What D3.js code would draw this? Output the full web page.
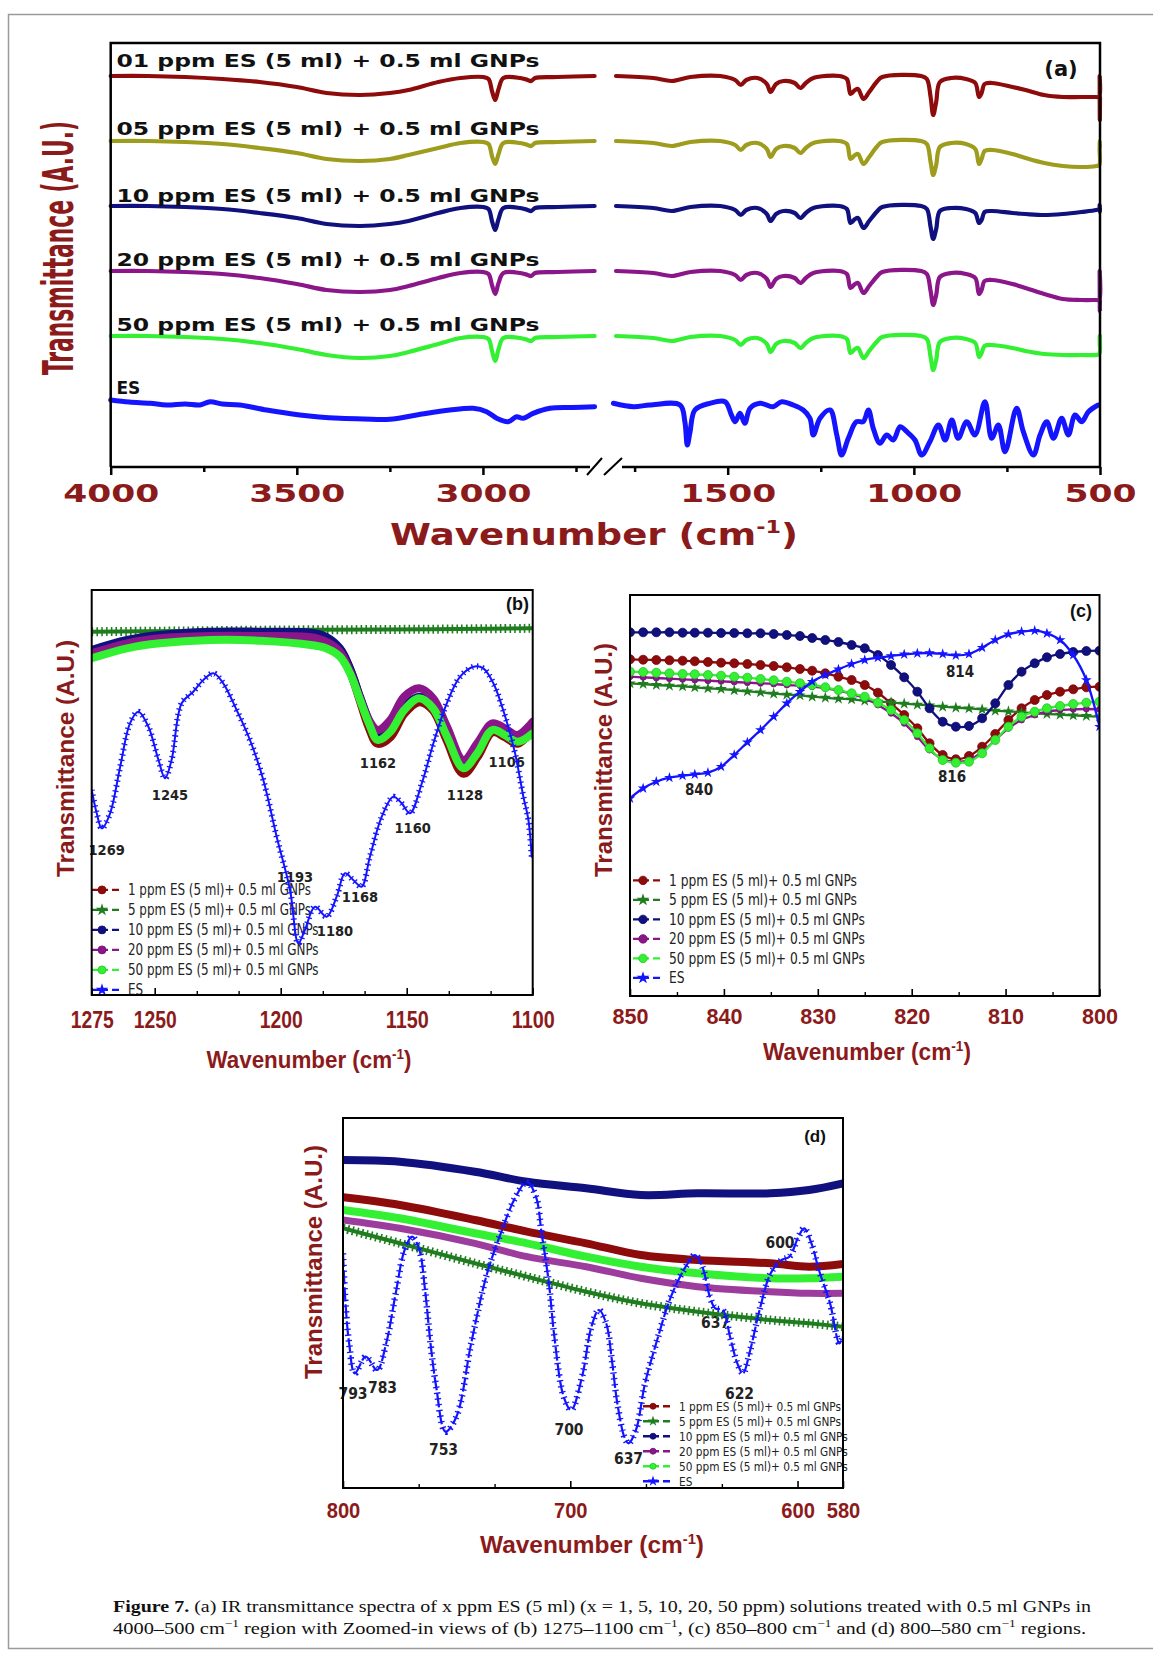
<!DOCTYPE html>
<html>
<head>
<meta charset="utf-8">
<script src="https://cdn.jsdelivr.net/npm/d3@7"></script>
<style>
  body { margin: 0; background: #fff; }
  svg { display: block; }
</style>
</head>
<body>
<svg id="fig" width="1153" height="1653"></svg>
<script>
// ---------------- panel (a): full spectra, offset traces ----------------
const gnpWnHigh = [4000, 3900, 3800, 3700, 3600, 3500, 3420, 3330, 3250, 3200, 3120, 3060, 3000, 2985, 2975, 2967, 2958, 2945, 2900, 2880, 2870, 2860, 2800, 2700];
const ppm01High = [391, 391, 390, 388, 385, 380, 374, 372, 374, 377, 385, 389, 390, 388, 375, 367, 378, 389, 389, 387, 386, 389, 390, 391];
const ppm05High = [326, 326, 325, 323, 319, 314, 308, 306, 308, 312, 319, 324, 325, 323, 310, 303, 313, 324, 324, 322, 321, 324, 325, 326];
const ppm10High = [261, 261, 260, 258, 254, 249, 243, 241, 243, 246, 254, 259, 260, 258, 245, 237, 248, 259, 259, 257, 256, 259, 260, 261];
const ppm20High = [196, 196, 195, 193, 189, 183, 177, 175, 177, 181, 189, 194, 195, 193, 181, 173, 184, 194, 194, 192, 191, 194, 195, 196];
const ppm50High = [131, 131, 130, 128, 124, 118, 112, 109, 111, 115, 123, 129, 130, 128, 115, 106, 118, 129, 129, 127, 126, 129, 130, 131];

const gnpWnLow = [1800, 1700, 1650, 1600, 1520, 1480, 1465, 1450, 1420, 1395, 1385, 1370, 1350, 1320, 1305, 1290, 1270, 1200, 1180, 1170, 1158, 1150, 1135, 1120, 1100, 1085, 980, 965, 955, 948, 940, 930, 900, 860, 835, 825, 818, 810, 790, 735, 700, 650, 600, 550, 510, 502, 501, 500.5, 500];
const ppm01Low = [391, 389, 386, 390, 391, 387, 382, 387, 389, 383, 375, 383, 386, 384, 379, 384, 389, 391, 388, 373, 377, 378, 368, 375, 385, 390, 391, 388, 370, 352, 365, 385, 389, 388, 384, 370, 374, 383, 384, 380, 377, 372, 370, 370, 370, 370, 391, 347, 370];
const ppm05Low = [326, 324, 321, 325, 326, 322, 317, 322, 324, 318, 310, 318, 321, 319, 314, 319, 324, 326, 323, 308, 312, 313, 303, 310, 320, 325, 326, 323, 305, 292, 302, 320, 324, 323, 318, 303, 308, 316, 317, 313, 309, 304, 301, 300, 301, 302, 318, 326, 320];
const ppm10Low = [261, 259, 256, 260, 261, 257, 252, 257, 259, 253, 246, 253, 256, 254, 249, 254, 259, 261, 258, 244, 248, 249, 239, 246, 255, 260, 261, 258, 240, 228, 238, 256, 259, 258, 254, 244, 247, 255, 256, 254, 253, 252, 253, 255, 257, 258, 262, 255, 258];
const ppm20Low = [196, 194, 191, 195, 196, 192, 187, 192, 194, 188, 180, 188, 191, 189, 184, 189, 194, 196, 193, 179, 183, 184, 174, 181, 190, 195, 196, 193, 176, 162, 172, 190, 194, 193, 189, 173, 177, 186, 187, 183, 179, 173, 168, 167, 167, 167, 196, 156, 166];
const ppm50Low = [131, 129, 126, 130, 131, 127, 122, 127, 129, 123, 115, 123, 126, 124, 119, 124, 129, 131, 128, 114, 118, 119, 109, 116, 125, 130, 131, 128, 110, 97, 107, 125, 129, 128, 124, 110, 114, 121, 122, 119, 116, 113, 112, 112, 112, 113, 131, 120, 131];

const esWnHigh = [4000, 3950, 3894, 3850, 3800, 3760, 3733, 3700, 3653, 3581, 3492, 3440, 3384, 3320, 3250, 3178, 3089, 3026, 2990, 2963, 2932, 2910, 2892, 2865, 2820, 2760, 2700];
const esHigh = [67, 65, 63.7, 62, 63, 62, 65.3, 63, 62, 57, 52, 50, 48.7, 48, 47.7, 52, 57, 58.7, 55.3, 48.7, 45.3, 50.3, 48.7, 53.7, 58.7, 59.5, 60.3];
const esWnLow = [1807, 1753, 1709, 1628, 1615, 1608.5, 1601, 1588, 1548, 1507, 1490, 1480, 1467, 1454, 1440, 1413, 1378, 1355, 1324, 1297, 1279, 1270, 1252, 1225, 1207, 1194, 1176, 1154, 1136, 1122, 1109, 1091, 1073, 1055, 1037, 1019, 997, 979, 957, 934, 916, 898, 881, 858, 836, 809, 791, 773, 755, 724, 706, 679, 661, 643, 625, 603, 585, 567, 549, 531, 505];
const esLow = [63.7, 60.3, 62, 62, 45.3, 22, 35.3, 57, 63.7, 65.3, 52, 45.3, 53.7, 43.7, 58.7, 63.7, 60.3, 65.3, 62, 57, 48.7, 32, 48.7, 57, 32, 12, 28.7, 45.3, 45.3, 57, 38.7, 23.7, 32, 27, 40.3, 35.3, 27, 12, 25.3, 42, 27, 47, 28.7, 45.3, 32, 65.3, 28.7, 42, 15.3, 58.7, 35.3, 12, 32, 45.3, 28.7, 48.7, 32, 52, 45.3, 55.3, 62];

const traceNamesA = ["01 ppm ES (5 ml) + 0.5 ml GNPs", "05 ppm ES (5 ml) + 0.5 ml GNPs", "10 ppm ES (5 ml) + 0.5 ml GNPs", "20 ppm ES (5 ml) + 0.5 ml GNPs", "50 ppm ES (5 ml) + 0.5 ml GNPs", "ES"];
const ticksHighMajor = [4000, 3500, 3000];
const ticksHighMinor = [3750, 3250, 2750];
const ticksLowMajor = [1500, 1000, 500];
const ticksLowMinor = [1750, 1250, 750];

// ---------------- panel (b): 1275-1100 ----------------
const gnpWnB = [1275, 1261, 1248, 1228, 1208, 1188, 1182, 1176.5, 1172.5, 1168.5, 1165, 1161.5, 1156.5, 1151, 1145, 1139.5, 1134, 1127.5, 1122, 1116, 1111, 1106, 1100];
const ppm01B = [343.3, 351.7, 356.7, 360, 360, 358.3, 355, 345, 325, 295, 268.3, 251.7, 258.3, 281.7, 293.3, 285, 255, 221.7, 238.3, 263.3, 258.3, 251.7, 266.7];
const ppm10B = [345, 355, 360, 363.3, 363.3, 362.3, 358.3, 346.7, 326.7, 298.3, 275, 260, 266.7, 288.3, 298.3, 290, 261.7, 228.3, 245, 268.3, 263.3, 256.7, 268.3];
const ppm20B = [341.7, 351.7, 356.7, 359, 359, 357.7, 353.3, 343.3, 323.3, 296.7, 275, 265, 275, 298.3, 306.7, 296.7, 268.3, 235, 251.7, 271.7, 266.7, 260, 273.3];
const ppm50B = [336.7, 346.7, 351.7, 355, 354.3, 350, 346.7, 338.3, 321.7, 295, 271.7, 255, 263.3, 285, 296.7, 286.7, 258.3, 226.7, 241.7, 265, 260, 253.3, 261.7];
const ppm05WnB = [1275, 1240, 1200, 1160, 1130, 1100];
const ppm05B = [363.3, 364, 365, 365.5, 366, 366.7];
const esWnB = [1275, 1273, 1271, 1267.7, 1263.7, 1259.8, 1256.5, 1252.5, 1248.5, 1245.9, 1243.3, 1239.3, 1234.7, 1230.7, 1226.7, 1222.8, 1217.5, 1212.2, 1206.9, 1201.6, 1196.3, 1193, 1190.4, 1186.4, 1181.8, 1177.8, 1174.5, 1171.2, 1167.9, 1164.6, 1159.9, 1155.3, 1152, 1148.7, 1144, 1139.4, 1134.1, 1128.8, 1123.5, 1119.6, 1115.6, 1110.9, 1107, 1103.7, 1101.7, 1100.4];
const esB = [205, 181.7, 166.7, 181.7, 228.3, 271.7, 283.3, 268.3, 235, 216.7, 235, 291.7, 303.3, 315, 321.7, 311.7, 285, 255, 215, 158.3, 105, 51.7, 65, 88.3, 78.3, 98.3, 121.7, 115, 108.3, 138.3, 178.3, 198.3, 191.7, 181.7, 211.7, 251.7, 291.7, 318.3, 328.3, 326.7, 311.7, 278.3, 241.7, 198.3, 175, 138.3];
const peakLabelsB = ["1269", "1245", "1193", "1180", "1168", "1160", "1162", "1128", "1106"];
const ticksBMajor = [1275, 1250, 1200, 1150, 1100];
const ticksBMinor = [1233.3, 1216.7, 1183.3, 1166.7, 1133.3, 1116.7];

// ---------------- panel (c): 850-800 ----------------
const wnC = [850, 848.6, 847.2, 845.8, 844.4, 843.1, 841.7, 840.3, 838.9, 837.5, 836.1, 834.7, 833.3, 831.9, 830.6, 829.2, 827.8, 826.4, 825.0, 823.6, 822.2, 820.8, 819.4, 818.1, 816.7, 815.3, 813.9, 812.5, 811.1, 809.7, 808.3, 806.9, 805.6, 804.2, 802.8, 801.4, 800];
const ppm01C = [336.7, 336.3, 336, 335.7, 335.3, 334.7, 334, 333.3, 332.7, 332, 331, 330, 328.7, 327, 325.3, 322.7, 319.3, 316, 311, 303.3, 292.7, 281, 267.7, 252.7, 241, 236.7, 240, 249.3, 262, 276, 287.7, 296, 301, 304.3, 306.7, 308.7, 309.3];
const ppm05C = [312.7, 312, 311, 310.3, 309.7, 308.7, 307.7, 307, 305.7, 304.7, 303.7, 302.3, 301.3, 300.7, 299.3, 298.3, 297.3, 296.7, 295.3, 294.3, 293.7, 292.3, 291.3, 290.7, 289.3, 288.3, 287.7, 286.7, 285.3, 284.7, 283.7, 282.7, 282, 281.3, 280.7, 280, 279.3];
const ppm10C = [363.7, 363.7, 363.7, 363.7, 363.3, 363.3, 363.3, 363, 363, 362.7, 362.7, 362, 361, 360, 358, 356, 354, 351, 347.7, 341, 331, 318.7, 304.3, 287.7, 274.3, 269.3, 270, 277.7, 292.7, 311, 324.3, 332.7, 338.7, 342, 344, 345, 345.3];
const ppm20C = [319.3, 318.7, 318, 317.3, 316.7, 316, 315.3, 314.7, 314, 313.3, 312.7, 312, 311, 310.3, 309.3, 307.7, 305.3, 302, 297.7, 291, 282.7, 272.7, 259.3, 246, 236.7, 234.3, 236, 244.3, 256, 267.7, 276, 281, 284.3, 286, 286.7, 287, 286.7];
const ppm50C = [324.3, 324, 323.3, 322.7, 322, 321.7, 321, 320.3, 319.3, 318.3, 317, 315.7, 314.3, 312.7, 311, 308.7, 306, 302.7, 299.3, 293.3, 286, 276, 262.7, 247.7, 236, 233.3, 234.3, 242.7, 256, 269.3, 279.3, 284.3, 287.7, 290, 292, 293.3, 294.3];
const esC = [197.7, 207.7, 214.3, 218.3, 220.3, 221.7, 223.3, 229.3, 241, 253.7, 266, 279.3, 292.7, 304.3, 314.3, 321, 326.7, 332, 336, 338.3, 340, 341.7, 342.7, 343, 342, 340.7, 342, 348.3, 356, 361.7, 364.3, 365.3, 362.7, 356, 341, 316, 269.3];
const peakLabelsC = ["814", "816", "840"];
const ticksCMajor = [850, 840, 830, 820, 810, 800];
const ticksCMinor = [845, 835, 825, 815, 805];

// ---------------- panel (d): 800-580 ----------------
const gnpWnD = [800, 775, 742, 719, 693, 669, 644, 612, 595, 580];
const ppm01D = [290.7, 283, 268, 256.3, 244.7, 233, 228, 224.7, 221.3, 224];
const ppm05D = [259.7, 244.7, 224.7, 211.3, 196.3, 184.7, 176.3, 168, 164.7, 161.3];
const ppm10D = [328, 326.3, 316.3, 306.3, 299.7, 293, 294.7, 294.7, 298, 304.7];
const ppm20D = [268, 259.7, 244.7, 231.3, 221.3, 209.7, 201.3, 196.3, 194.7, 194.7];
const ppm50D = [278, 269.7, 254.7, 244.7, 231.3, 221.3, 214.7, 209.7, 209.7, 211.3];
const esWnD = [800, 798.9, 797.3, 794.8, 790, 785, 781, 776.8, 772.9, 769.6, 766.4, 763.9, 761.5, 759, 754.9, 750.1, 743.6, 737, 730.6, 724, 719.1, 715.1, 712.6, 709.4, 707, 702.9, 699.6, 694.8, 690.7, 687.4, 684.2, 681.7, 679.3, 676, 674.4, 671.1, 667.1, 662.2, 655.7, 649.2, 645.1, 641.9, 638.6, 636.2, 632.9, 629.7, 626.5, 624, 620.8, 616.7, 611.8, 607, 603.6, 599.6, 597.1, 593.9, 590.6, 585.7, 581.6, 580];
const esD = [234.7, 184.7, 144.7, 114.7, 131.3, 118, 144.7, 194.7, 238, 251.3, 238, 198, 144.7, 101.3, 56.3, 71.3, 144.7, 211.3, 254.7, 291.3, 306.3, 291.3, 254.7, 204.7, 151.3, 91.3, 78, 111.3, 161.3, 178, 164.7, 128, 84.7, 49.7, 44.7, 58, 104.7, 144.7, 191.3, 221.3, 233, 221.3, 191.3, 179.7, 178, 151.3, 124.7, 114.7, 138, 178, 214.7, 228, 231.3, 251.3, 259.7, 244.7, 218, 184.7, 144.7, 151.3];
const peakLabelsD = ["793", "783", "753", "700", "637", "637", "622", "600"];
const ticksDMajor = [800, 700, 600, 580];
const ticksDMinor = [766.7, 733.3, 666.7, 633.3];

const legendNames = ["1 ppm ES (5 ml)+ 0.5 ml GNPs", "5 ppm ES (5 ml)+ 0.5 ml GNPs", "10 ppm ES (5 ml)+ 0.5 ml GNPs", "20 ppm ES (5 ml)+ 0.5 ml GNPs", "50 ppm ES (5 ml)+ 0.5 ml GNPs", "ES"];

// ---------------- styles ----------------
const RED = "#8e0b0b", OLIVE = "#9e9c1d", NAVY = "#10107e", PURPLE = "#8a168a", LIME = "#33f033", DKGREEN = "#1f7d1f", BLUE = "#1414ff";
const DARKRED = "#8b1a1a";
const FONT_WIDE = "'DejaVu Sans', Verdana, sans-serif";
const FONT_ARIAL = "'Liberation Sans', Arial, sans-serif";
const FONT_NARROW = "'Liberation Sans Narrow', 'Arial Narrow', 'DejaVu Sans Condensed', sans-serif";
const FONT_SERIF = "'Liberation Serif', 'Times New Roman', serif";
const legendColors = [RED, DKGREEN, NAVY, PURPLE, LIME, BLUE];
const legendSymbols = ["circle", "star", "circle", "circle", "circle", "star"];

const svg = d3.select("#fig");

// outer figure border
svg.append("rect").attr("x", 8.5).attr("y", 14.5).attr("width", 1200).attr("height", 1634)
    .attr("fill", "none").attr("stroke", "#9a9a9a").attr("stroke-width", 1.5);

function drawCurve(g, wn, vals, xs, ys, color, width, curve, dash) {
    let pts = wn.map((w, i) => [w, vals[i]]);
    let line = d3.line().x(d => xs(d[0])).y(d => ys(d[1]))
        .curve(curve || d3.curveCatmullRom.alpha(0.5));
    let p = g.append("path").datum(pts)
        .attr("d", line)
        .attr("fill", "none")
        .attr("stroke", color)
        .attr("stroke-width", width)
        .attr("stroke-linejoin", "round")
        .attr("stroke-linecap", "round");
    if (dash) p.attr("stroke-dasharray", dash).attr("stroke-linecap", "butt");
    return p;
}

function wavenumberLabel(g, cx, y, size, width, family) {
    let t = g.append("text")
        .attr("x", cx).attr("y", y)
        .attr("text-anchor", "middle")
        .attr("font-family", family)
        .attr("font-weight", "bold")
        .attr("font-size", size)
        .attr("fill", DARKRED)
        .attr("textLength", width)
        .attr("lengthAdjust", "spacingAndGlyphs");
    t.append("tspan").text("Wavenumber (cm");
    t.append("tspan").attr("dy", -size * 0.4).attr("font-size", size * 0.6).text("-1");
    t.append("tspan").attr("dy", size * 0.4).text(")");
}

function transLabel(g, x, cy, size, width, family) {
    g.append("text")
        .attr("transform", `translate(${x},${cy}) rotate(-90)`)
        .attr("text-anchor", "middle")
        .attr("font-family", family)
        .attr("font-weight", "bold")
        .attr("font-size", size)
        .attr("fill", DARKRED)
        .attr("textLength", width)
        .attr("lengthAdjust", "spacingAndGlyphs")
        .text("Transmittance (A.U.)");
}

// =============== panel (a) ===============
const xAL = d3.scaleLinear().domain([4000, 2700]).range([110.7, 594.6]);
const xAR = d3.scaleLinear().domain([1800, 500]).range([616, 1100]);
const yA = d3.scaleLinear().domain([0, 424]).range([467, 43]);
const gA = svg.append("g");

const tracesA = [
    {hi: ppm01High, lo: ppm01Low, color: RED},
    {hi: ppm05High, lo: ppm05Low, color: OLIVE},
    {hi: ppm10High, lo: ppm10Low, color: NAVY},
    {hi: ppm20High, lo: ppm20Low, color: PURPLE},
    {hi: ppm50High, lo: ppm50Low, color: LIME}
];
tracesA.forEach(t => {
    drawCurve(gA, gnpWnHigh, t.hi, xAL, yA, t.color, 4.2);
    drawCurve(gA, gnpWnLow, t.lo, xAR, yA, t.color, 4.2);
});
drawCurve(gA, esWnHigh, esHigh, xAL, yA, BLUE, 5, d3.curveCatmullRom.alpha(0.5));
drawCurve(gA, esWnLow, esLow, xAR, yA, BLUE, 5, d3.curveCatmullRom.alpha(0.5));

// frame with axis break
const axisA = gA.append("g").attr("stroke", "#000").attr("stroke-width", 2.5).attr("fill", "none");
axisA.append("path").attr("d", `M110.7,467 V43 H1100 V467`);
axisA.append("line").attr("x1", 110.7).attr("x2", 590).attr("y1", 467).attr("y2", 467);
axisA.append("line").attr("x1", 622).attr("x2", 1100).attr("y1", 467).attr("y2", 467);
axisA.append("line").attr("x1", 587).attr("y1", 475).attr("x2", 602).attr("y2", 458).attr("stroke-width", 2);
axisA.append("line").attr("x1", 604).attr("y1", 475).attr("x2", 622).attr("y2", 458).attr("stroke-width", 2);

function axisTicksA(xs, major, minor) {
    let a = gA.append("g").attr("transform", "translate(0,467)")
        .call(d3.axisBottom(xs).tickValues(major).tickSize(8).tickPadding(9.3).tickFormat(d3.format("d")));
    a.select(".domain").remove();
    a.selectAll("line").attr("stroke-width", 2.5);
    a.selectAll("text")
        .attr("font-family", FONT_WIDE).attr("font-weight", "bold").attr("font-size", 25)
        .attr("fill", DARKRED)
        .attr("textLength", d => d >= 1000 ? 96 : 72)
        .attr("lengthAdjust", "spacingAndGlyphs");
    let m = gA.append("g").attr("transform", "translate(0,467)")
        .call(d3.axisBottom(xs).tickValues(minor).tickSize(5).tickFormat(""));
    m.select(".domain").remove();
    m.selectAll("line").attr("stroke-width", 2.5);
}
axisTicksA(xAL, ticksHighMajor, ticksHighMinor);
axisTicksA(xAR, ticksLowMajor, ticksLowMinor);

const labelYA = [66.7, 134.6, 201.7, 265.6, 331, 393.5];
traceNamesA.forEach((name, i) => {
    let t = gA.append("text")
        .attr("x", 116.5).attr("y", labelYA[i])
        .attr("font-family", FONT_WIDE).attr("font-weight", "bold").attr("font-size", 17)
        .attr("fill", "#111")
        .text(name);
    if (name !== "ES") t.attr("textLength", 423).attr("lengthAdjust", "spacingAndGlyphs");
});
gA.append("text").attr("x", 1061).attr("y", 76).attr("text-anchor", "middle")
    .attr("font-family", FONT_WIDE).attr("font-weight", "bold").attr("font-size", 21)
    .attr("fill", "#111").text("(a)");

transLabel(gA, 73, 248, 42, 254, FONT_NARROW);
wavenumberLabel(gA, 594, 545, 30, 408, FONT_WIDE);

// =============== shared helpers for (b), (c), (d) ===============
function panelFrame(g, xs, ys) {
    g.append("rect")
        .attr("x", xs.range()[0]).attr("y", ys.range()[1])
        .attr("width", xs.range()[1] - xs.range()[0])
        .attr("height", ys.range()[0] - ys.range()[1])
        .attr("fill", "none").attr("stroke", "#000").attr("stroke-width", 2);
}

function panelAxis(g, xs, ys, major, minor, pad, size, labW) {
    let y0 = ys.range()[0];
    let a = g.append("g").attr("transform", `translate(0,${y0})`)
        .call(d3.axisBottom(xs).tickValues(major).tickSize(-7).tickPadding(pad).tickFormat(d3.format("d")));
    a.select(".domain").remove();
    a.selectAll("line").attr("stroke-width", 1.6);
    a.selectAll("text")
        .attr("font-family", FONT_ARIAL).attr("font-weight", "bold").attr("font-size", size)
        .attr("fill", DARKRED)
        .attr("textLength", d => String(d).length === 4 ? labW : labW * 0.8)
        .attr("lengthAdjust", "spacingAndGlyphs");
    let m = g.append("g").attr("transform", `translate(0,${y0})`)
        .call(d3.axisBottom(xs).tickValues(minor).tickSize(-4).tickFormat(""));
    m.select(".domain").remove();
    m.selectAll("line").attr("stroke-width", 1.4);
}

function drawMarker(g, type, x, y, color, size) {
    if (type === "star") {
        g.append("path")
            .attr("d", d3.symbol(d3.symbolStar).size(size * 6)())
            .attr("transform", `translate(${x},${y})`)
            .attr("fill", color);
    } else {
        g.append("circle").attr("cx", x).attr("cy", y).attr("r", size / 2)
            .attr("fill", color).attr("stroke", d3.color(color).darker(0.6)).attr("stroke-width", 0.8);
    }
}

function panelLegend(g, x0, y0, dy, size, refWidth, markSize) {
    let texts = [];
    legendNames.forEach((name, i) => {
        let y = y0 + i * dy;
        g.append("line")
            .attr("x1", x0).attr("x2", x0 + 30).attr("y1", y - size * 0.33).attr("y2", y - size * 0.33)
            .attr("stroke", legendColors[i]).attr("stroke-width", 2.4)
            .attr("stroke-dasharray", "16,4,7,10");
        drawMarker(g, legendSymbols[i], x0 + 10, y - size * 0.33, legendColors[i], markSize);
        texts.push(g.append("text")
            .attr("x", x0 + 36).attr("y", y)
            .attr("font-family", FONT_NARROW).attr("font-size", size)
            .attr("fill", "#222").text(name));
    });
    let k = refWidth / texts[0].node().getComputedTextLength();
    texts.forEach(t => t.attr("textLength", t.node().getComputedTextLength() * k)
        .attr("lengthAdjust", "spacingAndGlyphs"));
}

function peakText(g, txt, x, y, size) {
    g.append("text").attr("x", x).attr("y", y).attr("text-anchor", "middle")
        .attr("font-family", FONT_NARROW).attr("font-weight", "bold").attr("font-size", size)
        .attr("fill", "#222").text(txt);
}

// star-like tick texture along a dense-marker curve
function markerTexture(g, wn, vals, xs, ys, color, width, dash) {
    drawCurve(g, wn, vals, xs, ys, color, width, null, dash);
}

// =============== panel (b) ===============
const xB = d3.scaleLinear().domain([1275, 1100]).range([91.7, 532.7]);
const yB = d3.scaleLinear().domain([0, 405]).range([995, 590]);
const gB = svg.append("g");

const peakPosB = [[106.7, 855], [170, 800], [295, 882], [335, 936], [360, 902], [412.7, 833], [378, 768], [465, 800], [506.7, 767]];
peakLabelsB.forEach((t, i) => peakText(gB, t, peakPosB[i][0], peakPosB[i][1], 14.5));
panelLegend(gB, 92, 895, 20, 15.5, 183, 8);

const clipB = gB.append("clipPath").attr("id", "clipB");
clipB.append("rect").attr("x", 91.7).attr("y", 590).attr("width", 441).attr("height", 405);
const cB = gB.append("g").attr("clip-path", "url(#clipB)");
drawCurve(cB, gnpWnB, ppm01B, xB, yB, RED, 9);
drawCurve(cB, ppm05WnB, ppm05B, xB, yB, DKGREEN, 4);
markerTexture(cB, ppm05WnB, ppm05B, xB, yB, DKGREEN, 9, "1.6,3.2");
drawCurve(cB, gnpWnB, ppm10B, xB, yB, NAVY, 8);
drawCurve(cB, gnpWnB, ppm20B, xB, yB, PURPLE, 8);
drawCurve(cB, gnpWnB, ppm50B, xB, yB, LIME, 8);
drawCurve(cB, esWnB, esB, xB, yB, BLUE, 2);
markerTexture(cB, esWnB, esB, xB, yB, BLUE, 6, "1.3,4");

panelFrame(gB, xB, yB);
panelAxis(gB, xB, yB, ticksBMajor, ticksBMinor, 16.5, 23, 43);
gB.append("text").attr("x", 517.5).attr("y", 610).attr("text-anchor", "middle")
    .attr("font-family", FONT_ARIAL).attr("font-weight", "bold").attr("font-size", 18)
    .attr("fill", "#111").text("(b)");
transLabel(gB, 74, 758.5, 23, 237, FONT_ARIAL);
wavenumberLabel(gB, 309, 1068, 23, 205, FONT_ARIAL);

// =============== panel (c) ===============
const xC = d3.scaleLinear().domain([850, 800]).range([630, 1099.5]);
const yC = d3.scaleLinear().domain([0, 401]).range([996, 595]);
const gC = svg.append("g");

const peakPosC = [[960, 677], [952, 782], [699, 795]];
peakLabelsC.forEach((t, i) => peakText(gC, t, peakPosC[i][0], peakPosC[i][1], 15));
panelLegend(gC, 633, 885.5, 19.5, 15.5, 188, 8.5);

const clipC = gC.append("clipPath").attr("id", "clipC");
clipC.append("rect").attr("x", 630).attr("y", 595).attr("width", 469.5).attr("height", 401);
const cC = gC.append("g").attr("clip-path", "url(#clipC)");
const seriesC = [
    {vals: ppm01C, color: RED, sym: "circle", size: 9},
    {vals: ppm05C, color: DKGREEN, sym: "star", size: 7},
    {vals: ppm10C, color: NAVY, sym: "circle", size: 9},
    {vals: ppm20C, color: PURPLE, sym: "circle", size: 6},
    {vals: ppm50C, color: LIME, sym: "circle", size: 9},
    {vals: esC, color: BLUE, sym: "star", size: 6}
];
seriesC.forEach(s => {
    drawCurve(cC, wnC, s.vals, xC, yC, s.color, 2.3);
    wnC.forEach((w, i) => drawMarker(cC, s.sym, xC(w), yC(s.vals[i]), s.color, s.size));
});

panelFrame(gC, xC, yC);
panelAxis(gC, xC, yC, ticksCMajor, ticksCMinor, 12.4, 22, 45);
gC.append("text").attr("x", 1081).attr("y", 617).attr("text-anchor", "middle")
    .attr("font-family", FONT_ARIAL).attr("font-weight", "bold").attr("font-size", 18)
    .attr("fill", "#111").text("(c)");
transLabel(gC, 612, 760, 23, 234, FONT_ARIAL);
wavenumberLabel(gC, 867, 1060, 23, 208, FONT_ARIAL);

// =============== panel (d) ===============
const xD = d3.scaleLinear().domain([800, 580]).range([343, 843]);
const yD = d3.scaleLinear().domain([0, 370]).range([1488, 1118]);
const gD = svg.append("g");

const peakPosD = [[353, 1399], [382.5, 1393], [443.5, 1455], [569, 1435], [628.5, 1464], [715.5, 1328], [739.5, 1399], [780, 1248]];
peakLabelsD.forEach((t, i) => peakText(gD, t, peakPosD[i][0], peakPosD[i][1], 15.5));
panelLegend(gD, 643, 1410.5, 15, 13, 162, 6);

const clipD = gD.append("clipPath").attr("id", "clipD");
clipD.append("rect").attr("x", 343).attr("y", 1118).attr("width", 500).attr("height", 370);
const cD = gD.append("g").attr("clip-path", "url(#clipD)");
drawCurve(cD, gnpWnD, ppm10D, xD, yD, NAVY, 8);
drawCurve(cD, gnpWnD, ppm01D, xD, yD, RED, 8);
drawCurve(cD, gnpWnD, ppm50D, xD, yD, LIME, 8);
drawCurve(cD, gnpWnD, ppm20D, xD, yD, "#9c3c9c", 7);
drawCurve(cD, gnpWnD, ppm05D, xD, yD, DKGREEN, 4);
markerTexture(cD, gnpWnD, ppm05D, xD, yD, DKGREEN, 9, "1.6,3.2");
drawCurve(cD, esWnD, esD, xD, yD, BLUE, 2.2, null, "14,3");
markerTexture(cD, esWnD, esD, xD, yD, BLUE, 6.5, "1.3,4.5");

panelFrame(gD, xD, yD);
panelAxis(gD, xD, yD, ticksDMajor, ticksDMinor, 14.4, 22, 42);
gD.append("text").attr("x", 815).attr("y", 1142).attr("text-anchor", "middle")
    .attr("font-family", FONT_ARIAL).attr("font-weight", "bold").attr("font-size", 17)
    .attr("fill", "#111").text("(d)");
transLabel(gD, 322, 1262, 23, 234, FONT_ARIAL);
wavenumberLabel(gD, 592, 1553, 23, 224, FONT_ARIAL);

// =============== caption ===============
function captionLine(x, y, parts, width) {
    let t = svg.append("text").attr("x", x).attr("y", y)
        .attr("font-family", FONT_SERIF).attr("font-size", 17).attr("fill", "#111")
        .attr("textLength", width).attr("lengthAdjust", "spacingAndGlyphs");
    let raised = false;
    parts.forEach(p => {
        let s = t.append("tspan").text(p.text);
        if (p.bold) s.attr("font-weight", "bold");
        if (p.sup) { s.attr("font-size", 11).attr("dy", -7); raised = true; }
        else if (raised) { s.attr("dy", 7); raised = false; }
    });
}
captionLine(113, 1612, [
    {text: "Figure 7.", bold: true},
    {text: " (a) IR transmittance spectra of x ppm ES (5 ml) (x = 1, 5, 10, 20, 50 ppm) solutions treated with 0.5 ml GNPs in"}
], 978);
captionLine(113, 1634, [
    {text: "4000\u2013500 cm"}, {text: "\u22121", sup: true},
    {text: " region with Zoomed-in views of (b) 1275\u20131100 cm"}, {text: "\u22121", sup: true},
    {text: ", (c) 850\u2013800 cm"}, {text: "\u22121", sup: true},
    {text: " and (d) 800\u2013580 cm"}, {text: "\u22121", sup: true},
    {text: " regions."}
], 973);
</script>
</body>
</html>
